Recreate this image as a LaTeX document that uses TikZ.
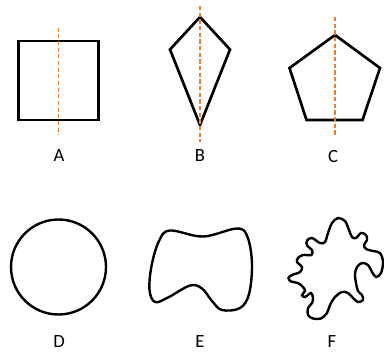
\documentclass[tikz,border=0pt]{standalone}
\usepackage{fontspec}
\setmainfont{Carlito}
\usepackage{xcolor}
\usepackage{tikz}
\usetikzlibrary{positioning}
\definecolor{axisorange}{HTML}{ED7D31}

\begin{document}
\begin{tikzpicture}[x=0.75pt, y=-0.75pt, line join=miter,
  figline/.style={draw=black, line width=2pt},
  blob/.style={draw=black, line width=1.8pt},
  axis/.style={draw=axisorange, line width=1.3pt, dash pattern=on 3.2pt off 1.8pt},
  letter/.style={font=\fontsize{14}{16}\selectfont, inner sep=0pt}]

\useasboundingbox (0,0) rectangle (384,351);

% A: square
\draw[figline] (18.5,41) rectangle (98.5,120);
\draw[axis] (58.5,27.5) -- (58.5,135);
\node (labA) [letter] at (59,156) {A};

% B: kite
\draw[figline] (200,17) -- (230,49.5) -- (200,125) -- (170,49.5) -- cycle;
\draw[axis] (200,6) -- (200,142);
\node (labB) [letter] at (200,156) {B};

% C: pentagon
\draw[figline] (335,35) -- (380,68) -- (362.5,120) -- (306.5,120) -- (289.5,68) -- cycle;
\draw[axis] (335,17) -- (335,137);
\node (labC) [letter] at (333,156) {C};

% D: circle
\draw[blob] (58.5,267) circle (47.5);
\node (labD) [letter] at (59,341) {D};

% E: smooth blob
\draw[blob] plot[smooth cycle, tension=0.6] coordinates {
  (170,230.5) (203,236.5) (237,228.5) (247.5,237) (252,264) (249,294)
  (240,308) (222,310) (212,301) (202,288.5) (190,285.5) (168,297.5)
  (155,302) (149.5,290) (151.5,266) (159,241)};
\node (labE) [letter] at (200,341) {E};

% F: wiggly blob
\draw[blob] plot[smooth cycle, tension=0.55] coordinates {
  (338,218) (345,221) (349,230) (352,237) (356,238) (361,233) (366,235)
  (367,240) (364,245) (366,249) (373,251) (380,253) (383,262) (381,273)
  (376,277) (372,272) (368,265) (362,263) (357,267) (355,274) (356,283)
  (358,291) (362,295) (363,300) (358,302) (353,298) (348,293) (342,292)
  (335,297) (330,305) (327,313) (321,318.5) (313,318.5) (308,315) (308,308)
  (312,303) (313,298) (311,293) (305,297) (302,295) (305,291) (303,287)
  (298,283) (291,281.5) (288.5,278) (292,275) (300,272) (302,267) (297,262)
  (298,258) (303,255) (311.5,255) (312,250) (307,245.5) (307,240.5) (312,238)
  (320,243) (325,242) (328,233) (332,223)};
\node (labF) [letter] at (332,341) {F};

\end{tikzpicture}
\end{document}
